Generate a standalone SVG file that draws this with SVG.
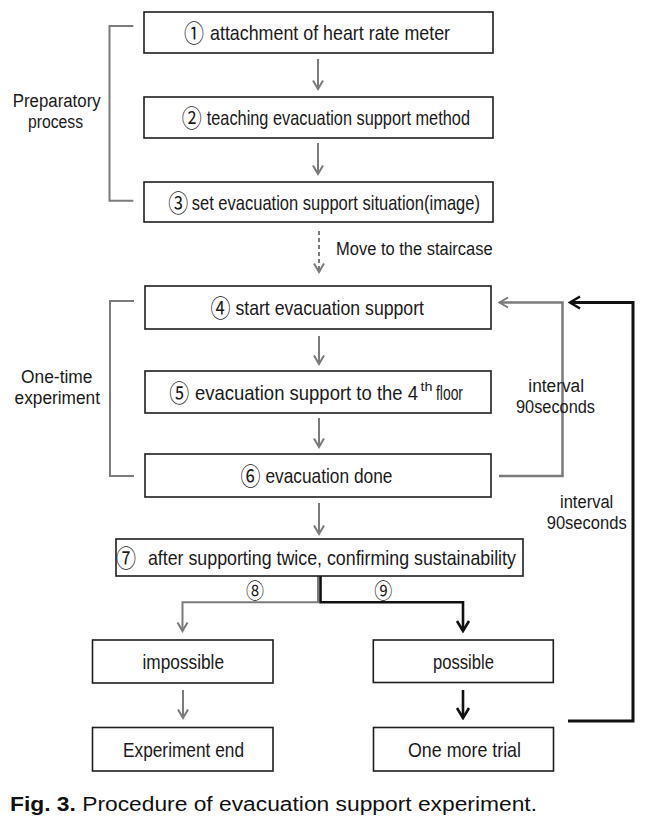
<svg xmlns="http://www.w3.org/2000/svg" width="653" height="819" viewBox="0 0 653 819">
<style>
.box{fill:#fff;stroke:#1e1e1e;stroke-width:1.6}
.t{font-family:"Liberation Sans",Arial,sans-serif;font-size:21px;fill:#1a1a1a}
.s{font-family:"Liberation Sans",Arial,sans-serif;font-size:18px;fill:#1a1a1a}
.c{font-family:"Noto Sans CJK KR",sans-serif;font-size:24px;fill:#1a1a1a}
.g{fill:none;stroke:#7b7b7b;stroke-width:2}
.k{fill:none;stroke:#111;stroke-width:3}
.br{fill:none;stroke:#7b7b7b;stroke-width:2}
.cap{font-family:"Liberation Sans",Arial,sans-serif;font-size:20px;fill:#111}
</style>
<defs>
<marker id="ag" viewBox="-1 -7 11 14" refX="8.5" refY="0" markerWidth="11" markerHeight="14" markerUnits="userSpaceOnUse" orient="auto">
<path d="M0,-5 L8.5,0 L0,5" fill="none" stroke="#7b7b7b" stroke-width="2"/>
</marker>
<marker id="ak" viewBox="-1 -8 13 16" refX="10" refY="0" markerWidth="13" markerHeight="16" markerUnits="userSpaceOnUse" orient="auto">
<path d="M0,-6 L10,0 L0,6" fill="none" stroke="#111" stroke-width="2.6"/>
</marker>
</defs>

<g id="connectors">
<path class="g" d="M318,59 V89" marker-end="url(#ag)"/>
<path class="g" d="M318,143 V174" marker-end="url(#ag)"/>
<path class="g" d="M319,231 V272" stroke-dasharray="4,3" marker-end="url(#ag)"/>
<path class="g" d="M319,336 V364" marker-end="url(#ag)"/>
<path class="g" d="M319,418 V447" marker-end="url(#ag)"/>
<path class="g" d="M319,503 V534" marker-end="url(#ag)"/>
<path class="g" d="M318,576 V602.3 H182.5 V631" marker-end="url(#ag)"/>
<path class="k" style="stroke-width:2.6" d="M320.5,576 V602.3 H463 V631" marker-end="url(#ak)"/>
<path class="g" d="M183,690 V718" marker-end="url(#ag)"/>
<path class="k" style="stroke-width:2.6" d="M463,690 V718" marker-end="url(#ak)"/>
<path class="g" style="stroke-width:2.5" d="M499,476 H562.5 V302.5 H499.5" marker-end="url(#ag)"/>
<path class="k" d="M568,721 H633 V302.5 H570" marker-end="url(#ak)"/>
<path class="br" d="M133.3,26 H109.5 V200.7 H133.3"/>
<path class="br" d="M134,301 H110 V476 H134"/>
</g>

<g id="label-preparatory">
<text class="s" x="12.7" y="107" textLength="88" lengthAdjust="spacingAndGlyphs">Preparatory</text>
<text class="s" x="28" y="127.5" textLength="55" lengthAdjust="spacingAndGlyphs">process</text>
</g>
<g id="label-onetime">
<text class="s" x="21" y="383" textLength="71.5" lengthAdjust="spacingAndGlyphs">One-time</text>
<text class="s" x="14.6" y="404" textLength="85.4" lengthAdjust="spacingAndGlyphs">experiment</text>
</g>
<g id="label-move">
<text class="s" x="336" y="254.5" textLength="156.7" lengthAdjust="spacingAndGlyphs">Move to the staircase</text>
</g>
<g id="label-interval1">
<text class="s" x="528.3" y="392.3" textLength="55.7" lengthAdjust="spacingAndGlyphs">interval</text>
<text class="s" x="516" y="412.5" textLength="79" lengthAdjust="spacingAndGlyphs">90seconds</text>
</g>
<g id="label-interval2">
<text class="s" x="560" y="508.3" textLength="53.3" lengthAdjust="spacingAndGlyphs">interval</text>
<text class="s" x="546.7" y="529.3" textLength="80" lengthAdjust="spacingAndGlyphs">90seconds</text>
</g>
<g id="label-8"><text class="c" style="font-size:21px" x="255" y="597.5" text-anchor="middle" textLength="18" lengthAdjust="spacingAndGlyphs">⑧</text></g>
<g id="label-9"><text class="c" style="font-size:21px" x="383.3" y="597.5" text-anchor="middle" textLength="18" lengthAdjust="spacingAndGlyphs">⑨</text></g>

<g id="n1"><rect class="box" x="144" y="12" width="349" height="41"/>
<text class="c" x="194" y="42" text-anchor="middle" textLength="20" lengthAdjust="spacingAndGlyphs">①</text>
<text class="t" x="210" y="40" textLength="240" lengthAdjust="spacingAndGlyphs">attachment of heart rate meter</text></g>
<g id="n2"><rect class="box" x="144" y="97" width="349" height="41"/>
<text class="c" x="191.7" y="126.5" text-anchor="middle" textLength="20" lengthAdjust="spacingAndGlyphs">②</text>
<text class="t" x="206.7" y="124.5" textLength="263.3" lengthAdjust="spacingAndGlyphs">teaching evacuation support method</text></g>
<g id="n3"><rect class="box" x="144" y="182" width="349" height="40"/>
<text class="c" x="178.3" y="211.5" text-anchor="middle" textLength="20" lengthAdjust="spacingAndGlyphs">③</text>
<text class="t" x="191.7" y="209.5" textLength="288.3" lengthAdjust="spacingAndGlyphs">set evacuation support situation(image)</text></g>
<g id="n4"><rect class="box" x="145" y="286" width="346" height="43"/>
<text class="c" x="220.4" y="317" text-anchor="middle" textLength="20" lengthAdjust="spacingAndGlyphs">④</text>
<text class="t" x="235.4" y="315" textLength="188.6" lengthAdjust="spacingAndGlyphs">start evacuation support</text></g>
<g id="n5"><rect class="box" x="145" y="371" width="346" height="42"/>
<text class="c" x="179.2" y="401.5" text-anchor="middle" textLength="20" lengthAdjust="spacingAndGlyphs">⑤</text>
<text class="t" x="195" y="399.5" textLength="223" lengthAdjust="spacingAndGlyphs">evacuation support to the 4</text>
<text class="t" style="font-size:12px" x="420.5" y="391" textLength="12" lengthAdjust="spacingAndGlyphs">th</text>
<text class="t" x="436" y="399.5" textLength="27" lengthAdjust="spacingAndGlyphs">floor</text></g>
<g id="n6"><rect class="box" x="145" y="454" width="346" height="43"/>
<text class="c" x="250.4" y="485" text-anchor="middle" textLength="20" lengthAdjust="spacingAndGlyphs">⑥</text>
<text class="t" x="265.4" y="483" textLength="127" lengthAdjust="spacingAndGlyphs">evacuation done</text></g>
<g id="n7"><rect class="box" x="116" y="539" width="407" height="37"/>
<text class="c" x="126.1" y="566.5" text-anchor="middle" textLength="20" lengthAdjust="spacingAndGlyphs">⑦</text>
<text class="t" x="147.9" y="564.5" textLength="368" lengthAdjust="spacingAndGlyphs">after supporting twice, confirming sustainability</text></g>
<g id="n-impossible"><rect class="box" x="92.5" y="640" width="180.5" height="43"/>
<text class="t" x="142.5" y="669" textLength="81.5" lengthAdjust="spacingAndGlyphs">impossible</text></g>
<g id="n-possible"><rect class="box" x="373.3" y="640" width="180" height="42.5"/>
<text class="t" x="433" y="669" textLength="61" lengthAdjust="spacingAndGlyphs">possible</text></g>
<g id="n-end"><rect class="box" x="92.5" y="727.5" width="180.5" height="43.5"/>
<text class="t" x="123" y="756.5" textLength="121" lengthAdjust="spacingAndGlyphs">Experiment end</text></g>
<g id="n-trial"><rect class="box" x="373.5" y="727.5" width="180" height="43.5"/>
<text class="t" x="408" y="756.5" textLength="113" lengthAdjust="spacingAndGlyphs">One more trial</text></g>

<g id="caption">
<text class="cap" x="10" y="810.5" textLength="527" lengthAdjust="spacingAndGlyphs"><tspan font-weight="bold">Fig. 3.</tspan> Procedure of evacuation support experiment.</text>
</g>
</svg>
